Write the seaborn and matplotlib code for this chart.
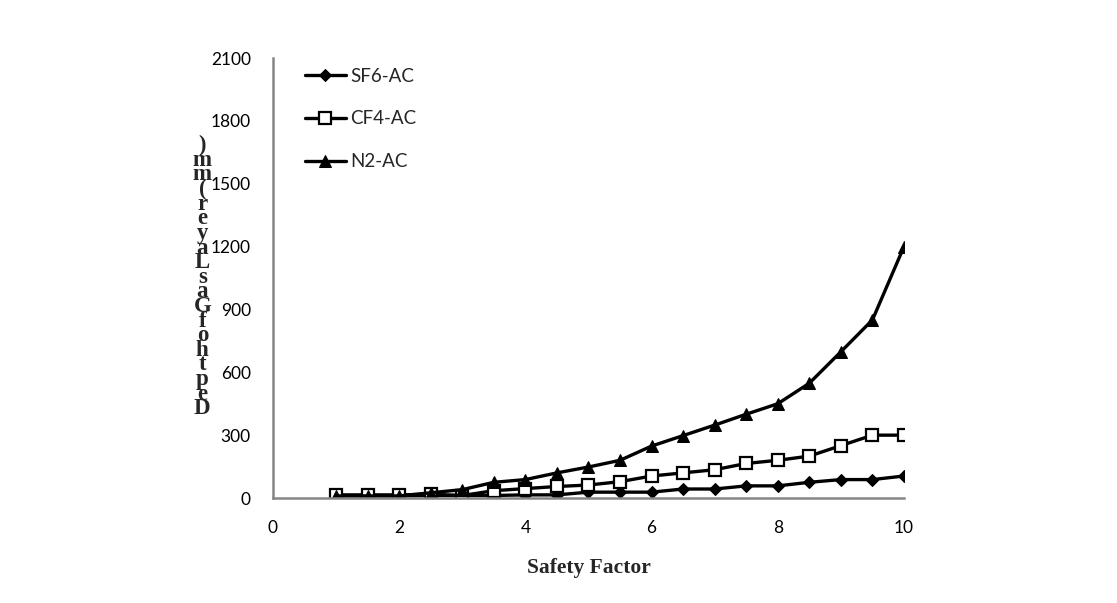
import numpy as np
import pandas as pd
import matplotlib
matplotlib.use("Agg")
import matplotlib.pyplot as plt
import seaborn as sns

# data
safety_factor = [1, 1.5, 2, 2.5, 3, 3.5, 4, 4.5, 5, 5.5, 6, 6.5, 7, 7.5, 8, 8.5, 9, 9.5, 10]
sf6_ac = [10, 10, 10, 12, 12, 12, 15, 15, 28, 28, 28, 43, 43, 58, 58, 75, 88, 88, 105]
cf4_ac = [15, 15, 15, 18, 12, 35, 45, 55, 62, 78, 105, 120, 135, 165, 180, 200, 250, 300, 300]
n2_ac = [10, 10, 10, 25, 40, 75, 88, 120, 148, 180, 248, 298, 348, 400, 450, 548, 698, 850, 1200]

series_names = ["SF6-AC", "CF4-AC", "N2-AC"]
x_ticks = [0, 2, 4, 6, 8, 10]
y_ticks = [0, 300, 600, 900, 1200, 1500, 1800, 2100]
ylabel_text = "Depth of Gas Layer (mm)"

sns.set_style("white")
plt.rcParams["font.family"] = ["Lato", "DejaVu Sans"]

df = pd.DataFrame({
    "Safety Factor": safety_factor * 3,
    "Depth": sf6_ac + cf4_ac + n2_ac,
    "Series": np.repeat(series_names, len(safety_factor)),
})

fig = plt.figure(figsize=(11.17, 6.03), dpi=100)
ax = fig.add_axes([0.2444, 0.1741, 0.8093 - 0.2444, 0.9038 - 0.1741])

marker_styles = {
    "SF6-AC": dict(marker="D", markersize=6, markerfacecolor="black", markeredgecolor="black"),
    "CF4-AC": dict(marker="s", markersize=9, markerfacecolor="white", markeredgecolor="black", markeredgewidth=1.6),
    "N2-AC": dict(marker="^", markersize=8.5, markerfacecolor="black", markeredgecolor="black"),
}

for name in series_names:
    sub = df[df["Series"] == name]
    sns.lineplot(data=sub, x="Safety Factor", y="Depth", ax=ax, color="black",
                 linewidth=2.4, label=name, **marker_styles[name])

ax.set_xlim(0, 10)
ax.set_ylim(0, 2100)
ax.set_xticks(x_ticks)
ax.set_yticks(y_ticks)

for side in ["top", "right"]:
    ax.spines[side].set_visible(False)
for side in ["left", "bottom"]:
    ax.spines[side].set_color("#868686")
    ax.spines[side].set_linewidth(1.8)

ax.tick_params(axis="both", direction="out", length=5, width=1.8, color="#868686",
               labelsize=12.5, labelcolor="black")
ax.tick_params(axis="x", pad=11)
ax.tick_params(axis="y", pad=11)

ax.set_xlabel("Safety Factor", fontsize=15.5, fontweight="bold",
              family="Liberation Serif", labelpad=16)

# y label drawn as stacked characters (read bottom to top)
stacked = "\n".join(list(ylabel_text.replace(" ", ""))[::-1])
ax.set_ylabel(stacked, rotation=0, fontsize=16.5, fontweight="bold",
              family="Liberation Serif", linespacing=0.6, va="center", ha="center")
ax.yaxis.set_label_coords(-0.112, 0.502)

leg = ax.legend(loc="upper left", bbox_to_anchor=(0.05, 0.978), frameon=False,
                fontsize=13.5, handlelength=2.2, handletextpad=0.25, labelspacing=1.37,
                borderaxespad=0, borderpad=0)

fig.savefig("out.png", dpi=100)
